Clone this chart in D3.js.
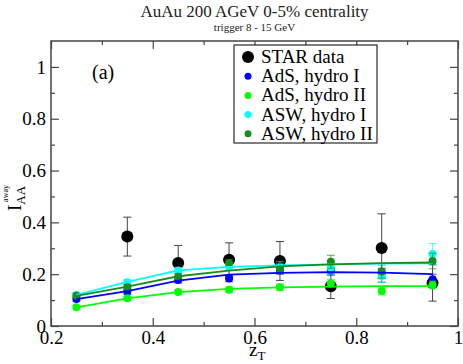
<!DOCTYPE html>
<html>
<head>
<meta charset="utf-8">
<script src="https://cdn.jsdelivr.net/npm/d3@7"></script>
<style>
  body { margin: 0; background: #fff; }
  svg text { font-family: "Liberation Serif", "DejaVu Serif", serif; fill: #000; }
</style>
</head>
<body>
<script>
// data

const zT = [0.25, 0.35, 0.45, 0.55, 0.65, 0.75, 0.85, 0.95];

const starZ = [0.35, 0.45, 0.55, 0.65, 0.75, 0.85, 0.95];
const starY = [0.345, 0.243, 0.256, 0.251, 0.153, 0.301, 0.166];
const starErr = [0.075, 0.068, 0.065, 0.075, 0.047, 0.132, 0.07];

// model points (with errors)
const adsIPts = [0.104, 0.133, 0.178, 0.183, 0.215, 0.216, 0.203, 0.18];
const adsIErr = [0.008, 0.01, 0.012, 0.012, 0.015, 0.02, 0.02, 0.02];
const adsIIPts = [0.072, 0.107, 0.131, 0.14, 0.15, 0.165, 0.135, 0.158];
const adsIIErr = [0.006, 0.008, 0.008, 0.01, 0.012, 0.015, 0.015, 0.015];
const aswIPts = [0.12, 0.169, 0.214, 0.229, 0.228, 0.225, 0.193, 0.278];
const aswIErr = [0.008, 0.01, 0.012, 0.015, 0.02, 0.025, 0.025, 0.04];
const aswIIPts = [0.117, 0.15, 0.19, 0.242, 0.221, 0.248, 0.21, 0.251];
const aswIIErr = [0.008, 0.01, 0.012, 0.015, 0.02, 0.025, 0.025, 0.03];

// model curves
const adsILine = [0.104, 0.135, 0.175, 0.198, 0.205, 0.208, 0.206, 0.2];
const adsIILine = [0.072, 0.107, 0.131, 0.143, 0.149, 0.152, 0.154, 0.154];
const aswILine = [0.12, 0.17, 0.215, 0.228, 0.234, 0.238, 0.241, 0.242];
const aswIILine = [0.116, 0.152, 0.192, 0.214, 0.23, 0.238, 0.243, 0.245];

const legendLabels = ["STAR data", "AdS, hydro I", "AdS, hydro II", "ASW, hydro I", "ASW, hydro II"];

const xMajor = [0.2, 0.4, 0.6, 0.8, 1];
const xMinor = [0.3, 0.5, 0.7, 0.9];
const yMajor = [0, 0.2, 0.4, 0.6, 0.8, 1];
const yMinor = [0.1, 0.3, 0.5, 0.7, 0.9];

// colors
const cBlue = "#0000ff", cGreen = "#00ff00", cCyan = "#00ffff", cDark = "#1a8c1a";

const models = [
  { pts: adsIPts, err: adsIErr, line: adsILine, color: cBlue },
  { pts: adsIIPts, err: adsIIErr, line: adsIILine, color: cGreen },
  { pts: aswIPts, err: aswIErr, line: aswILine, color: cCyan },
  { pts: aswIIPts, err: aswIIErr, line: aswIILine, color: cDark }
];

// layout

const w = 463, h = 364;
const m = { top: 41, right: 5, bottom: 38, left: 51 };
const serif = "'Liberation Serif', 'DejaVu Serif', serif";

const svg = d3.select("body").append("svg")
  .attr("width", w)
  .attr("height", h);

const x = d3.scaleLinear().domain([0.2, 1]).range([m.left, w - m.right]);
const y = d3.scaleLinear().domain([0, 1.1]).range([h - m.bottom, m.top]);

// title
svg.append("text")
  .attr("x", (m.left + w - m.right) / 2)
  .attr("y", 17)
  .attr("text-anchor", "middle")
  .style("font-size", "17px")
  .style("fill", "#222")
  .text("AuAu 200 AGeV 0-5% centrality");

svg.append("text")
  .attr("x", (m.left + w - m.right) / 2)
  .attr("y", 31)
  .attr("text-anchor", "middle")
  .style("font-size", "11px")
  .style("fill", "#222")
  .text("trigger 8 - 15 GeV");

// axes

function addAxis(gen, tx, ty, vals, size, labels) {
  const g = svg.append("g")
    .attr("transform", "translate(" + tx + "," + ty + ")")
    .call(gen.tickValues(vals).tickSizeInner(size).tickSizeOuter(0).tickPadding(5)
      .tickFormat(labels ? d3.format("") : ""));
  g.attr("font-family", serif).attr("font-size", 19);
  g.select(".domain").remove();
  g.selectAll("line").attr("stroke", "#444").attr("stroke-width", 1.2);
  g.selectAll("text").attr("font-family", serif).style("font-family", serif).style("font-size", "19px");
  return g;
}

const yB = h - m.bottom, xR = w - m.right;
addAxis(d3.axisBottom(x), 0, yB, xMajor, -8, true);
addAxis(d3.axisBottom(x), 0, yB, xMinor, -4, false);
addAxis(d3.axisTop(x), 0, m.top, xMajor, -8, false);
addAxis(d3.axisTop(x), 0, m.top, xMinor, -4, false);
addAxis(d3.axisLeft(y), m.left, 0, yMajor, -8, true);
addAxis(d3.axisLeft(y), m.left, 0, yMinor, -4, false);
addAxis(d3.axisRight(y), xR, 0, yMajor, -8, false);
addAxis(d3.axisRight(y), xR, 0, yMinor, -4, false);

svg.append("rect")
  .attr("x", m.left)
  .attr("y", m.top)
  .attr("width", xR - m.left)
  .attr("height", yB - m.top)
  .attr("fill", "none")
  .attr("stroke", "#444")
  .attr("stroke-width", 1.5);

// axis labels
const yl = svg.append("text")
  .attr("transform", "translate(21,211) rotate(-90)")
  .style("font-size", "19px");
yl.append("tspan").text("I");
yl.append("tspan").attr("dy", 4).style("font-size", "13px").text("AA");
yl.append("tspan").attr("dx", -16).attr("dy", -17).style("font-size", "8px").text("away");

const xl = svg.append("text")
  .attr("x", 249)
  .attr("y", 356)
  .style("font-size", "19px");
xl.append("tspan").text("z");
xl.append("tspan").attr("dy", 4).style("font-size", "13px").text("T");

svg.append("text")
  .attr("x", 92)
  .attr("y", 79)
  .style("font-size", "20px")
  .text("(a)");

// STAR data
const star = svg.append("g");
starZ.forEach((z, i) => {
  const cx = x(z), top = y(starY[i] + starErr[i]), bot = y(starY[i] - starErr[i]);
  star.append("line").attr("x1", cx).attr("x2", cx).attr("y1", top).attr("y2", bot)
    .attr("stroke", "#444").attr("stroke-width", 1);
  [top, bot].forEach(v => star.append("line")
    .attr("x1", cx - 4).attr("x2", cx + 4).attr("y1", v).attr("y2", v)
    .attr("stroke", "#444").attr("stroke-width", 1));
  star.append("circle").attr("cx", cx).attr("cy", y(starY[i])).attr("r", 6).attr("fill", "#000");
});

// model points
models.forEach(md => {
  const g = svg.append("g");
  zT.forEach((z, i) => {
    const cx = x(z), top = y(md.pts[i] + md.err[i]), bot = y(md.pts[i] - md.err[i]);
    g.append("line").attr("x1", cx).attr("x2", cx).attr("y1", top).attr("y2", bot)
      .attr("stroke", md.color).attr("stroke-width", 1).attr("opacity", 0.7);
    [top, bot].forEach(v => g.append("line")
      .attr("x1", cx - 4).attr("x2", cx + 4).attr("y1", v).attr("y2", v)
      .attr("stroke", md.color).attr("stroke-width", 1).attr("opacity", 0.7));
    g.append("circle").attr("cx", cx).attr("cy", y(md.pts[i])).attr("r", 4).attr("fill", md.color);
  });
});

// model curves
const line = d3.line().x((d, i) => x(zT[i])).y(d => y(d));
models.forEach(md => {
  svg.append("path")
    .datum(md.line)
    .attr("d", line)
    .attr("fill", "none")
    .attr("stroke", md.color)
    .attr("stroke-width", 1.8);
});

// legend
const lg = svg.append("g");
lg.append("rect")
  .attr("x", 234).attr("y", 45)
  .attr("width", 143).attr("height", 98)
  .attr("fill", "#fff")
  .attr("stroke", "#000")
  .attr("stroke-width", 1);

const legendColors = ["#000", cBlue, cGreen, cCyan, cDark];
const legendR = [6, 3.5, 3.5, 3.5, 3.5];
legendLabels.forEach((t, i) => {
  const cy = 57 + i * 19.2;
  lg.append("circle").attr("cx", 248).attr("cy", cy).attr("r", legendR[i]).attr("fill", legendColors[i]);
  lg.append("text").attr("x", 261).attr("y", cy + 6).style("font-size", "19px").text(t);
});
</script>
</body>
</html>
